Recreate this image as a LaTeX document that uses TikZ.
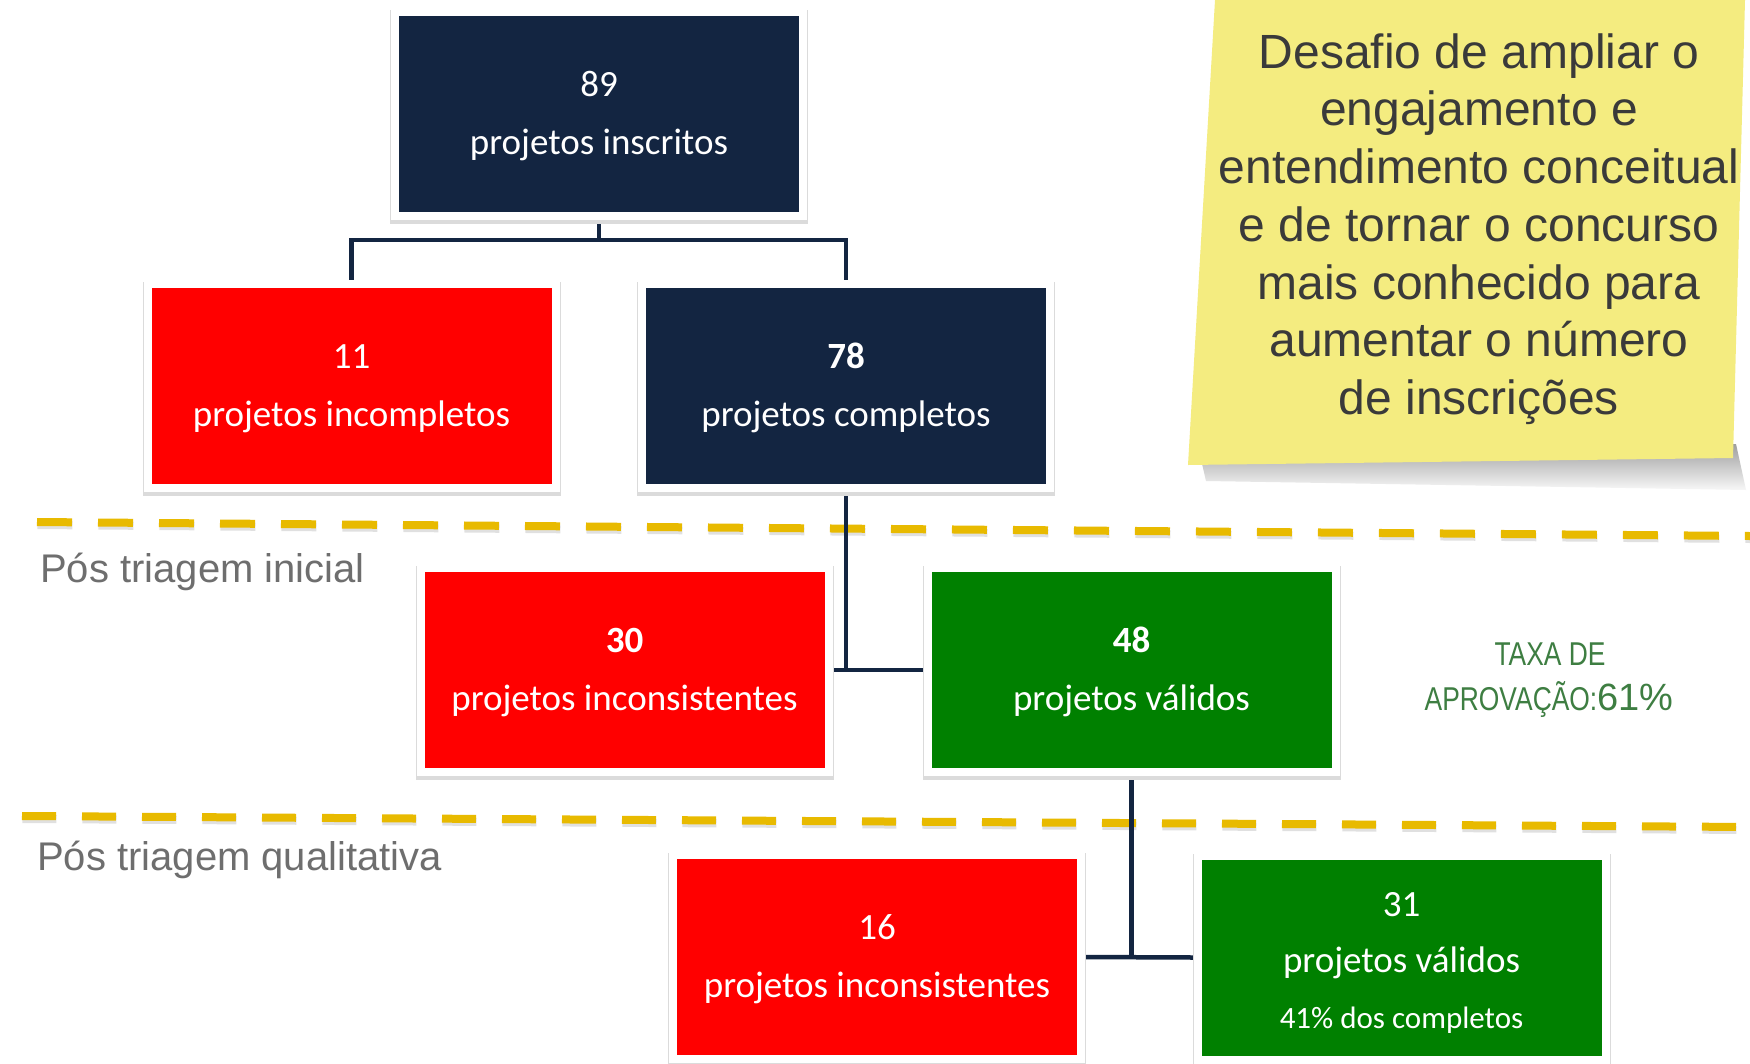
\documentclass[tikz,border=0pt]{standalone}
\usepackage{fontspec}
\setmainfont{Liberation Sans}
\newfontfamily\boxfont{Carlito}
\usetikzlibrary{backgrounds}
\definecolor{navy}{RGB}{19,37,65}
\definecolor{boxred}{RGB}{255,0,0}
\definecolor{boxgreen}{RGB}{0,128,0}
\definecolor{dashyel}{RGB}{232,186,0}
\definecolor{notey}{RGB}{244,236,128}
\definecolor{notetext}{RGB}{58,58,58}
\definecolor{labgray}{RGB}{110,110,110}
\definecolor{taxagreen}{RGB}{62,126,66}
\newcommand\tallstrut[1]{\rule{0pt}{#1}}
\tikzset{
  card/.style={minimum width=408pt, minimum height=204pt, inner sep=0pt,
    draw=white, line width=8pt, text=white, align=center,
    font=\boxfont\fontsize{37}{58}\selectfont,
    preaction={draw=black!14, fill=black!14, line width=10pt,
      transform canvas={yshift=-3pt}}},
  navycard/.style={card, fill=navy},
  redcard/.style={card, fill=boxred},
  greencard/.style={card, fill=boxgreen},
  conn/.style={draw=navy, line width=4.5pt},
  dashline/.style={draw=dashyel, line width=8pt, dash pattern=on 35pt off 26pt},
  dashshadow/.style={draw=black!30, opacity=0.4, line width=8pt,
    dash pattern=on 35pt off 26pt, transform canvas={xshift=0.5pt,yshift=-3pt}},
  stage/.style={text=labgray, font=\fontsize{40}{48}\selectfont, anchor=base west, inner sep=0pt},
  taxa/.style={text=taxagreen, font=\fontsize{33}{40}\selectfont, anchor=base, inner sep=0pt},
}
\begin{document}
\begin{tikzpicture}[x=1pt,y=-1pt]
\useasboundingbox (0,0) rectangle (1750,1063);

% boxes
\node[navycard] (b89) at (599,114) {\tallstrut{30pt}89\\projetos inscritos};
\node[redcard] (b11) at (351.5,386) {\tallstrut{30pt}11\\projetos incompletos};
\node[navycard] (b78) at (846,386) {\tallstrut{30pt}\textbf{78}\\projetos completos};
\node[redcard] (b30) at (624.5,670) {\tallstrut{30pt}\textbf{30}\\projetos inconsistentes};
\node[greencard] (b48) at (1131.5,670) {\tallstrut{30pt}\textbf{48}\\projetos válidos};
\node[redcard] (b16) at (877,957) {\tallstrut{30pt}16\\projetos inconsistentes};
\node[greencard, font=\boxfont\fontsize{37}{56}\selectfont] (b31) at (1401.5,957.5)
  {\tallstrut{35pt}31\\projetos válidos\\{\fontsize{31}{56}\selectfont 41\% dos completos}};

% junctions
\coordinate (j1) at (599,240);
\coordinate (j2) at (b78.south |- b48.west);
\coordinate (j3) at (b48.south |- b16.east);
\coordinate (d1a) at (37,522);
\coordinate (d1b) at (1750,536);
\coordinate (d2a) at (22,816);
\coordinate (d2b) at (1750,827);

\begin{scope}[on background layer]
  \fill[white] (0,0) rectangle (1750,1063);
  \draw[dashshadow] (d1a) -- (d1b);
  \draw[dashshadow, dash pattern=on 34pt off 26pt] (d2a) -- (d2b);
  \draw[dashline] (d1a) -- (d1b);
  \draw[dashline, dash pattern=on 34pt off 26pt] (d2a) -- (d2b);
  \draw[conn] (b89.south) -- (j1);
  \draw[conn] (b11.north) |- (j1) -| (b78.north);
  \draw[conn] (b78.south) -- (j2);
  \draw[conn] (b30.east) -- (b48.west);
  \draw[conn] (b48.south) -- (j3);
  \draw[conn] (b16.east) -- (b31.west);
\end{scope}

% stage labels
\node[stage] (s1) at (40,582) {Pós triagem inicial};
\node[stage] (s2) at (37,870) {Pós triagem qualitativa};

% approval rate
\node[taxa] (taxa1) at (1550,665) {\scalebox{0.8}[1]{TAXA DE}};
\node[taxa] (taxa2) at (1549,710) {\scalebox{0.8}[1]{APROVAÇÃO:}{\fontsize{38}{40}\selectfont 61\%}};

% sticky note
\shade[top color=black!38, bottom color=black!3] (1200,455) -- (1736,444) -- (1746,490) -- (1206,481) -- cycle;
\fill[notey] (1215,0) -- (1745,0) -- (1733,458) -- (1188,465) -- cycle;
\node[font=\fontsize{48}{57.7}\selectfont, text=notetext, align=center, inner sep=0pt] (note) at (1479,229)
  {Desafio de ampliar o\\engajamento e\\entendimento conceitual\\e de tornar o concurso\\mais conhecido para\\aumentar o número\\de inscrições};
\end{tikzpicture}
\end{document}
